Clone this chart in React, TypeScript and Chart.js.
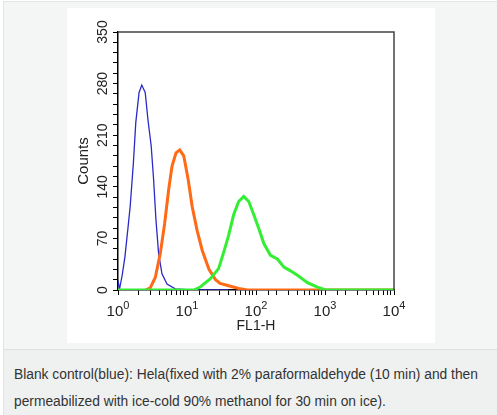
import React, { useEffect, useRef } from "react";
import { Chart, registerables } from "chart.js";

Chart.register(...registerables);

// FL1-H channel values (log axis) and counts
const blueX = [1, 1.05, 1.15, 1.26, 1.38, 1.5, 1.67, 1.81, 2.02, 2.21, 2.48, 2.71, 3.03, 3.28, 3.55, 3.88, 4.34, 5.13, 6.76, 10, 40];
const blueY = [13, 1, 20, 45, 80, 113, 172, 227, 268, 278, 268, 232, 195, 150, 95, 49, 22, 8, 1.5, 0.5, 0];

const orangeX = [2.51, 2.93, 3.47, 4.09, 4.74, 5.42, 6.07, 6.93, 7.85, 8.97, 10.4, 11.9, 14.0, 16.6, 20.8, 25.9, 30.2, 42.7, 56.2, 75, 10000];
const orangeY = [0, 3, 17, 49, 90, 136, 168, 186, 190, 182, 150, 113, 81, 54, 28, 14, 9, 5, 2, 0, 0];

const greenX = [1, 12.6, 15.5, 17.4, 21.7, 28.7, 34, 40.1, 47.4, 56.1, 66.4, 78.5, 92.9, 110, 130, 162, 204, 254, 316, 398, 557, 776, 1023, 10000];
const greenY = [0, 0, 4, 8, 15, 29, 51, 74, 102, 120, 127, 120, 102, 83, 63, 47, 42, 31, 26, 20, 10, 4, 0, 0];

const yTickStep = 14;
const yLabelStep = 70;
const yMax = 350;
const xMin = 1;
const xMax = 10000;
const xBase = "10";

const xTitle = "FL1-H";
const yTitle = "Counts";
const captionLines = [
  "Blank control(blue): Hela(fixed with 2% paraformaldehyde (10 min) and then",
  "permeabilized with ice-cold 90% methanol for 30 min on ice).",
];

const FONT = "'Liberation Sans', Arial, Helvetica, sans-serif";

const zip = (xs: number[], ys: number[]) => xs.map((x, i) => ({ x, y: ys[i] }));

const frame = {
  id: "frame",
  afterDraw(chart: any) {
    const { ctx, chartArea } = chart;
    ctx.save();
    ctx.strokeStyle = "#444";
    ctx.lineWidth = 1.5;
    ctx.beginPath();
    ctx.moveTo(chartArea.left, chartArea.top);
    ctx.lineTo(chartArea.right, chartArea.top);
    ctx.lineTo(chartArea.right, chartArea.bottom);
    ctx.stroke();
    ctx.restore();
  },
};

// Decade labels (10 with raised exponent) placed at the log scale's own ticks
const decadeLabels = {
  id: "decadeLabels",
  afterDraw(chart: any) {
    const scale = chart.scales.x;
    const { ctx } = chart;
    ctx.save();
    ctx.fillStyle = "#222";
    ctx.textBaseline = "alphabetic";
    ctx.textAlign = "left";
    for (const t of scale.ticks) {
      const l = Math.log10(t.value);
      const r = Math.round(l);
      if (Math.abs(l - r) > 1e-9) continue;
      const px = scale.getPixelForValue(t.value);
      const exp = String(r);
      ctx.font = `15px ${FONT}`;
      const wb = ctx.measureText(xBase).width;
      ctx.font = `11px ${FONT}`;
      const we = ctx.measureText(exp).width;
      const start = px - (wb + we) / 2;
      const baseY = scale.top + 26;
      ctx.font = `15px ${FONT}`;
      ctx.fillText(xBase, start, baseY);
      ctx.font = `11px ${FONT}`;
      ctx.fillText(exp, start + wb, baseY - 7);
    }
    ctx.restore();
  },
};

export default function App() {
  const ref = useRef<HTMLCanvasElement | null>(null);

  useEffect(() => {
    document.body.style.margin = "0";
    if (!ref.current) return;
    const chart = new Chart(ref.current, {
      type: "line",
      data: {
        datasets: [
          {
            label: "green",
            data: zip(greenX, greenY),
            borderColor: "#33ee33",
            borderWidth: 3,
            pointRadius: 0,
            tension: 0,
          },
          {
            label: "orange",
            data: zip(orangeX, orangeY),
            borderColor: "#ff6a16",
            borderWidth: 3,
            pointRadius: 0,
            tension: 0,
          },
          {
            label: "blue",
            data: zip(blueX, blueY),
            borderColor: "#2a2ac8",
            borderWidth: 1.3,
            pointRadius: 0,
            tension: 0,
          },
        ],
      },
      options: {
        animation: false,
        responsive: false,
        maintainAspectRatio: false,
        layout: { padding: { top: 24, right: 41, left: 0, bottom: 0 } },
        plugins: { legend: { display: false }, tooltip: { enabled: false } },
        scales: {
          x: {
            type: "logarithmic",
            min: xMin,
            max: xMax,
            afterFit: (s: any) => {
              s.height = 53;
            },
            border: { display: true, color: "#000", width: 1.5 },
            grid: { drawOnChartArea: false, drawTicks: true, tickLength: 5, color: "#000", lineWidth: 1 },
            ticks: {
              autoSkip: false,
              maxRotation: 0,
              minRotation: 0,
              padding: 4,
              font: { family: FONT, size: 15 },
              callback: () => "",
            },
            title: {
              display: true,
              text: xTitle,
              color: "#222",
              font: { family: FONT, size: 14 },
              padding: { top: 0, bottom: 8 },
            },
          },
          y: {
            min: 0,
            max: yMax,
            afterFit: (s: any) => {
              s.width = 51;
            },
            border: { display: true, color: "#000", width: 1.5 },
            grid: { drawOnChartArea: false, drawTicks: true, tickLength: 5, color: "#000", lineWidth: 1 },
            ticks: {
              stepSize: yTickStep,
              autoSkip: false,
              minRotation: 90,
              maxRotation: 90,
              crossAlign: "center",
              padding: -2,
              color: "#222",
              font: { family: FONT, size: 14 },
              callback: (v: any) => (Number(v) % yLabelStep === 0 ? String(v) : ""),
            },
            title: {
              display: true,
              text: yTitle,
              color: "#222",
              font: { family: FONT, size: 15 },
              padding: { top: 8, bottom: 0 },
            },
          },
        },
      },
      plugins: [frame, decadeLabels],
    } as any);
    return () => chart.destroy();
  }, []);

  return (
    <div style={{ position: "fixed", left: 0, top: 0, width: 497, height: 415, background: "#fff", fontFamily: FONT }}>
      <div
        style={{
          position: "absolute",
          left: 3,
          top: 1,
          width: 494,
          height: 348,
          background: "#f4f5f5",
          borderTop: "1px solid #e3e4e4",
          borderLeft: "1px solid #e3e4e4",
          boxSizing: "border-box",
        }}
      />
      <div style={{ position: "absolute", left: 67, top: 8, width: 368, height: 335, background: "#fff" }}>
        <canvas ref={ref} width={368} height={335} style={{ width: 368, height: 335, display: "block" }} />
      </div>
      <div
        style={{
          position: "absolute",
          left: 3,
          top: 349,
          width: 494,
          height: 66,
          background: "#eff1f0",
          borderTop: "1px solid #dfe1e0",
          borderLeft: "1px solid #e3e4e4",
          boxSizing: "border-box",
          paddingLeft: 10,
          paddingTop: 11,
          fontSize: 13.8,
          lineHeight: "27px",
          color: "#333",
          whiteSpace: "nowrap",
        }}
      >
        {captionLines.map((t, i) => (
          <div key={i}>{t}</div>
        ))}
      </div>
    </div>
  );
}
